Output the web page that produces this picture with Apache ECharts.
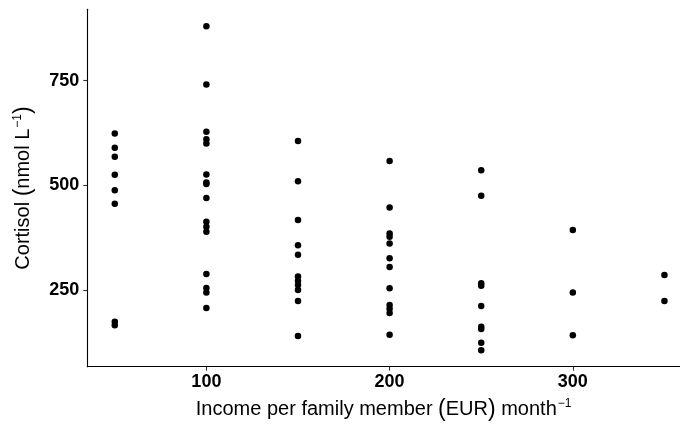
<!DOCTYPE html>
<html>
<head>
<meta charset="utf-8">
<script src="https://cdn.jsdelivr.net/npm/echarts@6/dist/echarts.min.js"></script>
<style>html,body{margin:0;padding:0;background:#fff}#c{width:680px;height:429px}</style>
</head>
<body>
<div id="c"></div>
<script>
var income50 = [624, 590, 568, 525, 488, 456, 174, 166];
var income100 = [880, 741, 628, 610, 600, 526, 507, 503, 470, 413, 401, 389, 288, 255, 244, 207];
var income150 = [606, 510, 417, 357, 334, 282, 272, 262, 250, 224, 140];
var income200 = [558, 447, 385, 377, 361, 326, 305, 254, 214, 205, 195, 143];
var income250 = [536, 475, 266, 260, 212, 162, 157, 124, 106];
var income300 = [393, 244, 142];
var income350 = [286, 224];
var incomeLevels = [50, 100, 150, 200, 250, 300, 350];
var xTicks = [100, 200, 300];
var yTicks = [250, 500, 750];

var groups = [income50, income100, income150, income200, income250, income300, income350];
var points = [];
groups.forEach(function (g, i) {
  g.forEach(function (v) { points.push([incomeLevels[i], v]); });
});

var chart = echarts.init(document.getElementById('c'));
var font = 'Liberation Sans, Arial, sans-serif';
var titleRich = {
  t: { fontSize: 20, color: '#000', fontFamily: font },
  p: { fontSize: 23, color: '#000', fontFamily: font },
  s: { fontSize: 12, color: '#000', fontFamily: font, padding: [0, 0, 12, 1] }
};
chart.setOption({
  backgroundColor: '#fff',
  animation: false,
  grid: { left: 87.3, top: 9.3, right: 0, height: 357.4, containLabel: false },
  xAxis: {
    type: 'value', min: 35, max: 358.5,
    splitLine: { show: false },
    axisLine: { show: true, onZero: false, lineStyle: { color: '#000', width: 1.1 } },
    axisTick: { show: true, length: 4, customValues: xTicks, lineStyle: { color: '#333', width: 1.1 } },
    axisLabel: { customValues: xTicks, color: '#000', fontWeight: 'bold', fontSize: 18, fontFamily: font, margin: 6 },
    name: '{t|Income per family member }{p|(}{t|EUR}{p|)}{t| month}{s|−1}',
    nameLocation: 'middle', nameGap: 31,
    nameTextStyle: { rich: titleRich }
  },
  yAxis: {
    type: 'value', min: 66.8, max: 920.4,
    splitLine: { show: false },
    axisLine: { show: true, onZero: false, lineStyle: { color: '#000', width: 1.1 } },
    axisTick: { show: true, length: 4, customValues: yTicks, lineStyle: { color: '#333', width: 1.1 } },
    axisLabel: { customValues: yTicks, color: '#000', fontWeight: 'bold', fontSize: 18, fontFamily: font, margin: 8 },
    name: '{t|Cortisol }{p|(}{t|nmol L}{s|−1}{p|)}',
    nameLocation: 'middle', nameGap: 52,
    nameTextStyle: { rich: titleRich }
  },
  series: [{
    type: 'scatter',
    data: points,
    symbolSize: 6.5,
    itemStyle: { color: '#000', opacity: 1 }
  }]
});
</script>
</body>
</html>
